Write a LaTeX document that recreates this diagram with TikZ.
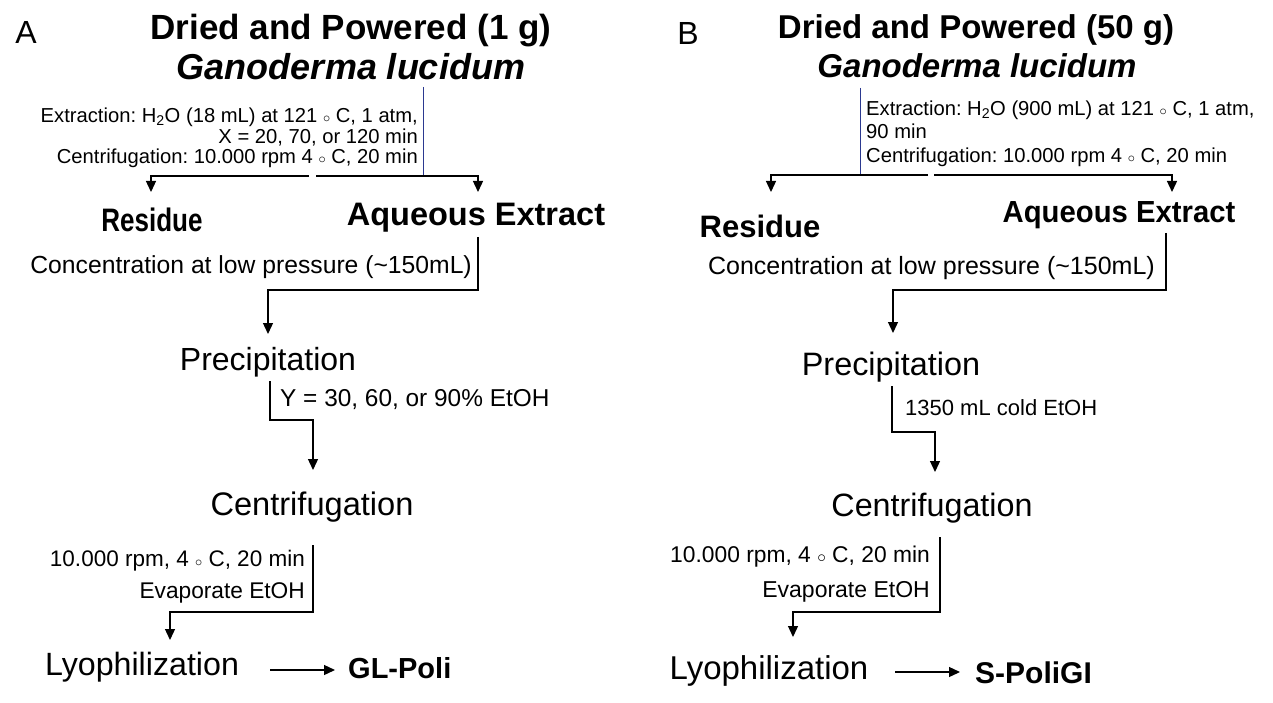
\documentclass[tikz,border=0pt]{standalone}
\usepackage{fontspec}
\setmainfont{Liberation Sans}
\usetikzlibrary{arrows.meta,calc}
\definecolor{blueline}{HTML}{2B3990}
\newcommand{\dg}{ $\scriptstyle\circ$ }
\begin{document}
\begin{tikzpicture}[x=1pt,y=-1pt,
  ln/.style={line width=1.3pt, black},
  arr/.style={ln, -{Triangle[length=11pt,width=10pt]}},
  bl/.style={line width=0.9pt, draw=blueline},
  panel/.style={font=\fontsize{32}{36}\selectfont, inner sep=0pt},
  ttl/.style={font=\fontsize{#1}{#1}\selectfont\bfseries, inner sep=0pt},
  ttli/.style={font=\fontsize{#1}{#1}\selectfont\bfseries\itshape, inner sep=0pt},
  prod/.style={font=\fontsize{#1}{#1}\selectfont\bfseries, inner sep=0pt},
  stepnode/.style={font=\fontsize{#1}{#1}\selectfont, inner sep=0pt},
  note/.style={font=\fontsize{#1}{#1}\selectfont\frenchspacing, inner sep=0pt},
  fin/.style={font=\fontsize{#1}{#1}\selectfont\bfseries, inner sep=0pt}
]
\useasboundingbox[fill=white] (0,0) rectangle (1273,703);

% ---------------- Panel A ----------------
\node[panel] (labA) at (26,32) {A};
\node[ttl=35] (t1A) at (351,31) {Dried and Powered (1 g)};
\node[ttli=36] (t2A) at (351,67) {Ganoderma lucidum};
\coordinate (bA) at (423,87);
\coordinate (jA) at (423,176);
\draw[bl] (bA) -- (jA);
\node[note=20.2, anchor=east] (nA1) at (418,117) {Extraction: H\textsubscript{2}O (18 mL) at 121\dg C, 1 atm,};
\node[note=20.2, anchor=east] (nA2) at (418,137) {X = 20, 70, or 120 min};
\node[note=20.2, anchor=east] (nA3) at (418,158) {Centrifugation: 10.000 rpm 4\dg C, 20 min};
\node[prod=32.5] (resA) at (152,220) {\scalebox{0.8}[1]{Residue}};
\node[prod=32.5] (aqA) at (476,218) {Aqueous Extract};
\coordinate (sA1) at (309,176);
\coordinate (sA2) at (316,176);
\coordinate (rA) at (151,192);
\coordinate (eA) at (478,192);
\draw[arr] (sA1) -| (rA);
\draw[arr] (sA2) -| (eA);

\coordinate (cA1) at (478,237);
\coordinate (cA2) at (478,290);
\coordinate (pA) at (268,334);
\draw[arr] (cA1) -- (cA2) -| (pA);
\node[note=24.7, anchor=east] (concA) at (472,267) {Concentration at low pressure (\textasciitilde150mL)};
\node[stepnode=32] (precA) at (268,362) {Precipitation};

\coordinate (dA1) at (270,381);
\coordinate (dA2) at (313,420);
\coordinate (dA3) at (313,470);
\draw[arr] (dA1) |- (dA2) -- (dA3);
\node[note=24.4, anchor=west] (yA) at (280,400) {Y = 30, 60, or 90\% EtOH};
\node[stepnode=32.6] (cenA) at (312,507) {Centrifugation};

\coordinate (fA1) at (313,545);
\coordinate (fA2) at (170,612);
\coordinate (fA3) at (170,640);
\draw[arr] (fA1) |- (fA2) -- (fA3);
\node[note=22.5, anchor=east] (rpmA) at (305,561) {10.000 rpm, 4\dg C, 20 min};
\node[note=22.7, anchor=east] (evA) at (305,593) {Evaporate EtOH};
\node[stepnode=32.2] (lyoA) at (142,667) {Lyophilization};
\coordinate (lA1) at (270,670);
\coordinate (lA2) at (335,670);
\draw[arr] (lA1) -- (lA2);
\node[fin=29, anchor=west] (glA) at (348,668) {GL-Poli};

% ---------------- Panel B ----------------
\node[panel] (labB) at (688,33) {B};
\node[ttl=33] (t1B) at (976,30) {Dried and Powered (50 g)};
\node[ttli=33] (t2B) at (977,66) {Ganoderma lucidum};
\coordinate (bB) at (860,88);
\coordinate (jB) at (860,175);
\draw[bl] (bB) -- (jB);
\node[note=20.2, anchor=west] (nB1) at (866,110) {Extraction: H\textsubscript{2}O (900 mL) at 121\dg C, 1 atm,};
\node[note=20.2, anchor=west] (nB2) at (866,131) {90 min};
\node[note=20.2, anchor=west] (nB3) at (866,157) {Centrifugation: 10.000 rpm 4\dg C, 20 min};
\node[prod=31] (resB) at (760,226) {Residue};
\node[prod=30.5] (aqB) at (1119,215) {\scalebox{0.96}[1]{Aqueous Extract}};
\coordinate (sB1) at (928,175);
\coordinate (sB2) at (934,175);
\coordinate (rB) at (771,192);
\coordinate (eB) at (1172,192);
\draw[arr] (sB1) -| (rB);
\draw[arr] (sB2) -| (eB);

\coordinate (cB1) at (1166,233);
\coordinate (cB2) at (1166,290);
\coordinate (pB) at (893,333);
\draw[arr] (cB1) -- (cB2) -| (pB);
\node[note=25, anchor=east] (concB) at (1155,268) {Concentration at low pressure (\textasciitilde150mL)};
\node[stepnode=32.4] (precB) at (891,367) {Precipitation};

\coordinate (dB1) at (892,386);
\coordinate (dB2) at (935,432);
\coordinate (dB3) at (935,472);
\draw[arr] (dB1) |- (dB2) -- (dB3);
\node[note=22, anchor=west] (yB) at (905,408) {1350 mL cold EtOH};
\node[stepnode=32.3] (cenB) at (932,508) {Centrifugation};

\coordinate (fB1) at (940,537);
\coordinate (fB2) at (793,612);
\coordinate (fB3) at (793,637);
\draw[arr] (fB1) |- (fB2) -- (fB3);
\node[note=22.8, anchor=east] (rpmB) at (930,557) {10.000 rpm, 4\dg C, 20 min};
\node[note=23, anchor=east] (evB) at (930,592) {Evaporate EtOH};
\node[stepnode=33] (lyoB) at (769,671) {Lyophilization};
\coordinate (lB1) at (895,672);
\coordinate (lB2) at (960,672);
\draw[arr] (lB1) -- (lB2);
\node[fin=30, anchor=west] (spB) at (975,673) {S-PoliGI};
\end{tikzpicture}
\end{document}
